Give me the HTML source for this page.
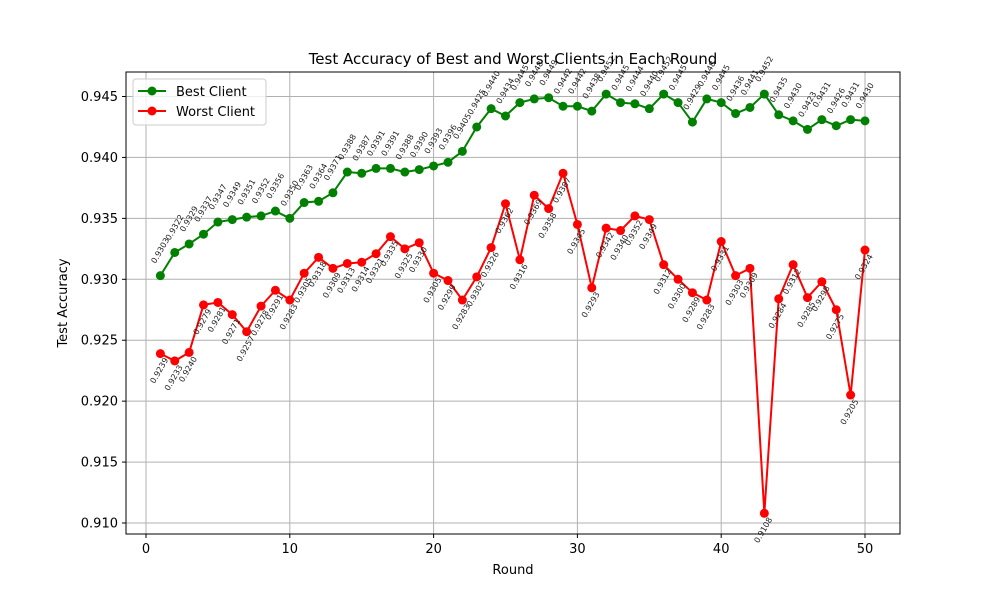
<!DOCTYPE html>
<html><head><meta charset="utf-8"><style>
body{margin:0;background:#fff;font-family:"Liberation Sans","DejaVu Sans",sans-serif}
svg text{font-family:"DejaVu Sans","Liberation Sans",sans-serif}
</style></head><body>
<svg id="chart" width="1000" height="600" xmlns="http://www.w3.org/2000/svg">
<rect width="1000" height="600" fill="#fff"/>
<g id="grid"></g>
<g id="series"></g>
<g id="labels"></g>
<rect x="126" y="72" width="774" height="462" fill="none" stroke="#000" stroke-width="1"/>
<g id="ticks"></g>
<text x="513" y="64" font-size="15" text-anchor="middle">Test Accuracy of Best and Worst Clients in Each Round</text>
<text x="513" y="574" font-size="13" text-anchor="middle">Round</text>
<text x="67" y="303" font-size="13" text-anchor="middle" transform="rotate(-90 67 303)">Test Accuracy</text>
<g>
<rect x="133" y="79" width="133" height="46" rx="3" fill="#fff" fill-opacity="0.8" stroke="#ccc"/>
<g>
<line x1="138" y1="91" x2="166" y2="91" stroke="green" stroke-width="2"/><circle cx="152" cy="91" r="4.5" fill="green"/>
<text x="176" y="96" font-size="13">Best Client</text></g>
<g>
<line x1="138" y1="111" x2="166" y2="111" stroke="red" stroke-width="2"/><circle cx="152" cy="111" r="4.5" fill="red"/>
<text x="176" y="116" font-size="13">Worst Client</text></g>
</g>
</svg>
<script>
const rounds = Array.from({length:50},(_,i)=>i+1);
const bestAcc = [0.9303,0.9322,0.9329,0.9337,0.9347,0.9349,0.9351,0.9352,0.9356,0.9350,0.9363,0.9364,0.9371,0.9388,0.9387,0.9391,0.9391,0.9388,0.9390,0.9393,0.9396,0.9405,0.9425,0.9440,0.9434,0.9445,0.9448,0.9449,0.9442,0.9442,0.9438,0.9452,0.9445,0.9444,0.9440,0.9452,0.9445,0.9429,0.9448,0.9445,0.9436,0.9441,0.9452,0.9435,0.9430,0.9423,0.9431,0.9426,0.9431,0.9430];
const worstAcc = [0.9239,0.9233,0.9240,0.9279,0.9281,0.9271,0.9257,0.9278,0.9291,0.9283,0.9305,0.9318,0.9309,0.9313,0.9314,0.9321,0.9335,0.9325,0.9330,0.9305,0.9299,0.9283,0.9302,0.9326,0.9362,0.9316,0.9369,0.9358,0.9387,0.9345,0.9293,0.9342,0.9340,0.9352,0.9349,0.9312,0.9300,0.9289,0.9283,0.9331,0.9303,0.9309,0.9108,0.9284,0.9312,0.9285,0.9298,0.9275,0.9205,0.9324];
const xTicks = [0,10,20,30,40,50];
const yTicks = [0.910,0.915,0.920,0.925,0.930,0.935,0.940,0.945];
const NS="http://www.w3.org/2000/svg";
const X=v=>146+v*14.38;
const Y=v=>96.5+(0.945-v)*12186;
function mk(t,a,p){const e=document.createElementNS(NS,t);for(const k in a)e.setAttribute(k,a[k]);p.appendChild(e);return e;}
const grid=document.getElementById('grid'),ticks=document.getElementById('ticks'),ser=document.getElementById('series'),lab=document.getElementById('labels');
xTicks.forEach(t=>{
 const g=mk('line',{x1:X(t),x2:X(t),y1:72,y2:534,stroke:'#b0b0b0','stroke-width':1},grid);
 
 
 mk('line',{x1:X(t),x2:X(t),y1:534,y2:538,stroke:'#000'},ticks);
 const tx=mk('text',{x:X(t),y:553,'font-size':13,'text-anchor':'middle'},ticks);
 tx.textContent=t;
 
 
});
yTicks.forEach(t=>{
 const g=mk('line',{x1:126,x2:900,y1:Y(t),y2:Y(t),stroke:'#b0b0b0','stroke-width':1},grid);
 
 
 mk('line',{x1:122,x2:126,y1:Y(t),y2:Y(t),stroke:'#000'},ticks);
 const tx=mk('text',{x:118,y:Y(t)+4.5,'font-size':13,'text-anchor':'end'},ticks);
 tx.textContent=t.toFixed(3);
 
 
});
function drawSeries(vals,color,name,dy){
 const pl=mk('polyline',{points:vals.map((v,i)=>X(rounds[i])+','+Y(v)).join(' '),fill:'none',stroke:color,'stroke-width':2},ser);
 
 
 vals.forEach((v,i)=>{
  const c=mk('circle',{cx:X(rounds[i]),cy:Y(v),r:4.5,fill:color},ser);
  
  
  const lx=X(rounds[i])+(dy<0?0:-1), ly=Y(v)+dy;
  const t=mk('text',{x:lx,y:ly+2.5,'font-size':8,'text-anchor':'middle',fill:'#222',transform:`rotate(-60 ${lx} ${ly})`},lab);
  t.textContent=v.toFixed(4);
  
  
 });
}
drawSeries(bestAcc,'green','best-client',-25);
drawSeries(worstAcc,'red','worst-client',17);
</script>
</body></html>
